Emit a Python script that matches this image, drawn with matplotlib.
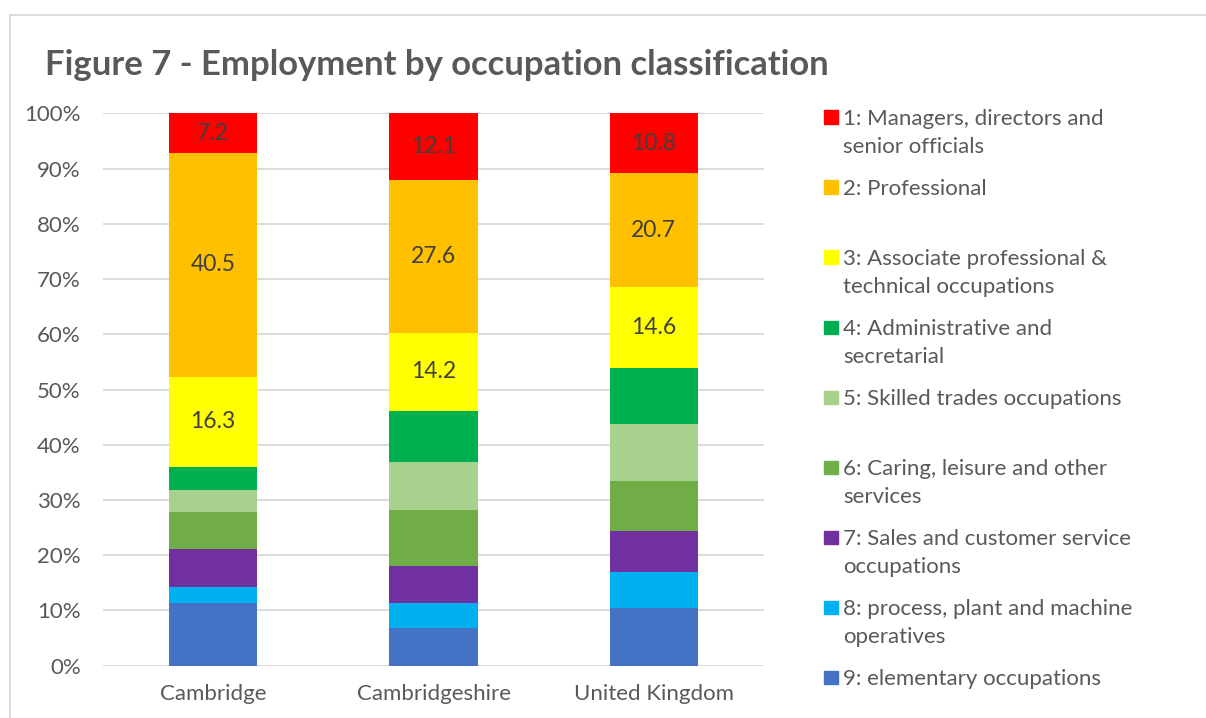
import numpy as np
import matplotlib.pyplot as plt
from matplotlib.patches import Rectangle
from matplotlib.ticker import PercentFormatter

plt.rcParams['font.family'] = ['Lato', 'DejaVu Sans']

areas = ['Cambridge', 'Cambridgeshire', 'United Kingdom']
groups = ['1: Managers, directors and\nsenior officials',
          '2: Professional',
          '3: Associate professional &\ntechnical occupations',
          '4: Administrative and\nsecretarial',
          '5: Skilled trades occupations',
          '6: Caring, leisure and other\nservices',
          '7: Sales and customer service\noccupations',
          '8: process, plant and machine\noperatives',
          '9: elementary occupations']
# values per group, order: Cambridge, Cambridgeshire, UK
g1 = [7.2, 12.1, 10.8]
g2 = [40.5, 27.6, 20.7]
g3 = [16.3, 14.2, 14.6]
g4 = [4.2, 9.2, 10.2]
g5 = [3.9, 8.7, 10.3]
g6 = [6.7, 10.2, 9.0]
g7 = [6.9, 6.6, 7.4]
g8 = [3.0, 4.6, 6.5]
g9 = [11.3, 6.8, 10.5]
colors = ['#FF0000', '#FFC000', '#FFFF00', '#00B050', '#A9D18E',
          '#70AD47', '#7030A0', '#00B0F0', '#4472C4']
labelled = [0, 1, 2]  # groups that show a data label

series = [g1, g2, g3, g4, g5, g6, g7, g8, g9]
grey = '#595959'
W, H = 1206, 718

fig = plt.figure(figsize=(W/100, H/100), dpi=100)
ax = fig.add_axes([103/W, 1-665.7/H, 661/W, 552.4/H])

x = np.arange(len(areas))
bottom = np.zeros(len(areas))
# stack from group 9 at the bottom up to group 1
for i in range(len(series)-1, -1, -1):
    vals = np.array(series[i])
    bars = ax.bar(x, vals, 0.4, bottom=bottom, color=colors[i], zorder=2)
    if i in labelled:
        ax.bar_label(bars, labels=['%.1f' % v for v in vals], label_type='center',
                     fontsize=16.5, color='#404040')
    bottom += vals

ax.set_xlim(-0.5, 2.5)
ax.set_ylim(0, 100)
ax.set_yticks(np.arange(0, 101, 10))
ax.yaxis.set_major_formatter(PercentFormatter(decimals=0))
ax.set_xticks(x)
ax.set_xticklabels(areas)
ax.grid(axis='y', color='#D9D9D9', linewidth=1.3, zorder=0)
for s in ax.spines.values():
    s.set_visible(False)
ax.tick_params(length=0, labelsize=16, colors=grey)
ax.tick_params(axis='y', pad=16)
ax.tick_params(axis='x', pad=13)

fig.text(45/W, 1-75/H, 'Figure 7 - Employment by occupation classification',
         fontsize=24.9, fontweight='bold', color=grey, va='baseline')

# legend, laid out like the Excel one
for k, (lab, c) in enumerate(zip(groups, colors)):
    base = 125 + 70*k
    fig.add_artist(Rectangle((824/W, 1-(base-1)/H), 14/W, 13.5/H,
                             color=c, transform=fig.transFigure))
    for j, line in enumerate(lab.split('\n')):
        fig.text(843/W, 1-(base + 28.3*j)/H, line, fontsize=16, color=grey,
                 va='baseline')

# chart border
fig.add_artist(Rectangle((10/W, -0.1), 1.2, 1.1-15/H, fill=False,
                         edgecolor='#D9D9D9', linewidth=1.3,
                         transform=fig.transFigure))

fig.savefig('out.png', dpi=100)
